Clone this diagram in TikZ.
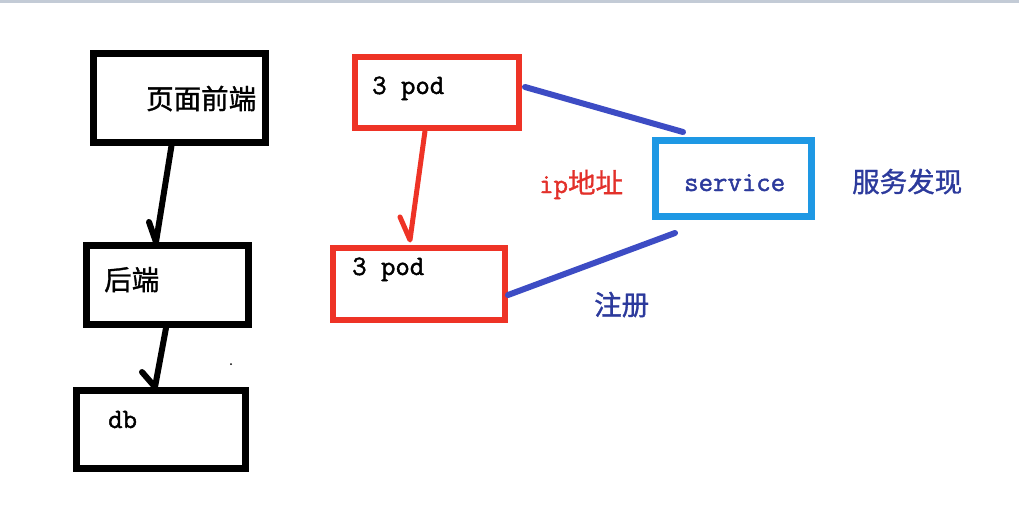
\documentclass[tikz,border=0pt]{standalone}
\usepackage{fontspec}
\newfontfamily\cjk{Noto Sans CJK SC}[FakeBold=1.2]
\newfontfamily\monof{Latin Modern Mono}[FakeBold=1.5]
\definecolor{topgray}{HTML}{C3CBD6}
\definecolor{podred}{HTML}{EE3326}
\definecolor{linkblue}{HTML}{3D4CC4}
\definecolor{svcblue}{HTML}{1E98E4}
\definecolor{txtblue}{HTML}{2C3A9C}
\definecolor{iptxt}{HTML}{E2302A}
\begin{document}
\begin{tikzpicture}[x=1pt,y=-1pt,
  box/.style={draw, rectangle, inner sep=0pt, outer sep=0pt},
  blackbox/.style={box, line width=7pt, black},
  redbox/.style={box, line width=6pt, podred},
  bluebox/.style={box, line width=7pt, svcblue},
  cjktxt/.style={inner sep=0pt, anchor=base west, font=\cjk\fontsize{27.5}{32}\selectfont},
  monotxt/.style={inner sep=0pt, anchor=base west, font=\monof\fontsize{28}{32}\selectfont},
  blackarrow/.style={draw, black, line width=6pt, line cap=round, line join=round},
  redarrow/.style={draw, podred, line width=5pt, line cap=round, line join=round},
  bluelink/.style={draw, linkblue, line width=6pt, line cap=round}]
\useasboundingbox (0,0) rectangle (1019,506);
\fill[topgray] (0,0) rectangle (1019,2.5);

% boxes
\node[blackbox, minimum width=172pt, minimum height=89pt] (page) at (179.5,98) {};
\node[blackbox, minimum width=162pt, minimum height=79pt] (back) at (167.5,285) {};
\node[blackbox, minimum width=169pt, minimum height=78pt] (db) at (161,429.5) {};
\node[redbox, minimum width=164pt, minimum height=71pt] (pod1) at (437,92.5) {};
\node[redbox, minimum width=172pt, minimum height=72pt] (pod2) at (419,284) {};
\node[bluebox, minimum width=156pt, minimum height=76pt] (svc) at (733.5,178.5) {};

% texts
\node[cjktxt] (tpage) at (146,109) {页面前端};
\node[cjktxt] (tback) at (104,290) {后端};
\node[monotxt] (tdb) at (108,428) {db};
\node[monotxt] (tpod1) at (372,94) {3 pod};
\node[monotxt] (tpod2) at (352,275) {3 pod};
\node[monotxt, text=txtblue] (tsvc) at (684,191) {service};
\node[inner sep=0pt, anchor=base west, text=iptxt] (tip) at (539,193)
  {\monof\fontsize{28}{32}\selectfont ip\cjk\fontsize{27.5}{32}\selectfont 地址};
\node[cjktxt, text=txtblue] (tfind) at (852,192) {服务发现};
\node[cjktxt, text=txtblue] (treg) at (594,315) {注册};

% connectors
\path[blackarrow] ([xshift=-7.5pt]page.south) -- ([xshift=-11.5pt,yshift=3.5pt]back.north) -- ++(-7,-20);
\path[blackarrow] ([xshift=-1.5pt,yshift=-3.5pt]back.south) -- ([xshift=-6pt,yshift=3.5pt]db.north) -- ++(-13,-15);
\path[redarrow] ([xshift=-12pt,yshift=-3pt]pod1.south) -- ([xshift=-9pt,yshift=8pt]pod2.north) -- ++(-10,-23);
\coordinate (s1) at ([xshift=27.5pt,yshift=8.5pt]svc.north west);
\coordinate (s2) at ([xshift=19.5pt,yshift=-16.5pt]svc.south west);
\path[bluelink] ([xshift=6pt,yshift=5.5pt]pod1.east) -- (s1);
\path[bluelink] ([xshift=3pt,yshift=-11pt]pod2.east) -- (s2);

% stray dot
\fill[black] (231,364) circle (1pt);
\end{tikzpicture}
\end{document}
